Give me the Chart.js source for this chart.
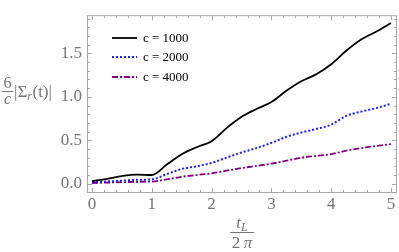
<!DOCTYPE html>
<html lang="en">
<head>
    <meta charset="UTF-8">
    <title>Sigma_r chart</title>
    <script src="https://cdn.jsdelivr.net/npm/chart.js"></script>
    <style>
        html, body { margin: 0; padding: 0; background: #fff; }
        #wrap { width: 399px; height: 252px; }
    </style>
</head>
<body>
    <div id="wrap"><canvas id="chart" width="399" height="252"></canvas></div>

    <script>
        // data
        const tValues = [0, 0.25, 0.5, 0.75, 1, 1.25, 1.5, 1.75, 2, 2.25, 2.5, 2.75, 3, 3.25, 3.5, 3.75, 4, 4.25, 4.5, 4.75, 5];
        const c1000 = [0.03, 0.055, 0.088, 0.105, 0.10, 0.22, 0.34, 0.42, 0.49, 0.64, 0.77, 0.86, 0.94, 1.07, 1.18, 1.26, 1.375, 1.53, 1.66, 1.75, 1.85];
        const c2000 = [0.015, 0.025, 0.035, 0.045, 0.05, 0.11, 0.17, 0.20, 0.24, 0.30, 0.36, 0.41, 0.47, 0.54, 0.59, 0.63, 0.68, 0.78, 0.83, 0.87, 0.92];
        const c4000 = [0.008, 0.013, 0.018, 0.022, 0.025, 0.05, 0.08, 0.10, 0.12, 0.15, 0.18, 0.205, 0.23, 0.265, 0.30, 0.32, 0.34, 0.38, 0.41, 0.435, 0.455];
        const seriesLabels = ['c = 1000', 'c = 2000', 'c = 4000'];
        const xTicks = [0, 1, 2, 3, 4, 5];
        const yTicks = [0, 0.5, 1, 1.5];

        const serif = 'Liberation Serif, Times New Roman, serif';
        const gray = '#757575';

        function pts(ys) {
            return tValues.map((t, i) => ({ x: t, y: ys[i] }));
        }

        // frame with inward ticks, like a Mathematica Frame
        const framePlugin = {
            id: 'frame',
            afterDatasetsDraw(chart) {
                const { ctx, chartArea: a, scales: { x, y } } = chart;
                ctx.save();
                ctx.strokeStyle = '#a8a8a8';
                ctx.lineWidth = 1;
                ctx.strokeRect(a.left + 0.5, a.top + 0.5, a.right - a.left - 1, a.bottom - a.top - 1);
                ctx.beginPath();
                for (let i = 0; i <= 25; i++) {
                    const v = i / 5;
                    const len = i % 5 === 0 ? 5 : 3;
                    const px = Math.round(x.getPixelForValue(v)) + 0.5;
                    ctx.moveTo(px, a.bottom); ctx.lineTo(px, a.bottom - len);
                    ctx.moveTo(px, a.top); ctx.lineTo(px, a.top + len);
                }
                for (let i = -1; i <= 19; i++) {
                    const v = i / 10;
                    const len = i % 5 === 0 ? 5 : 3;
                    const py = Math.round(y.getPixelForValue(v)) + 0.5;
                    if (py < a.top || py > a.bottom) continue;
                    ctx.moveTo(a.left, py); ctx.lineTo(a.left + len, py);
                    ctx.moveTo(a.right, py); ctx.lineTo(a.right - len, py);
                }
                ctx.stroke();
                ctx.restore();
            }
        };

        // legend inside the plot, top left
        const legendPlugin = {
            id: 'innerLegend',
            afterDatasetsDraw(chart) {
                const ctx = chart.ctx;
                const rows = [38, 57, 77];
                ctx.save();
                chart.data.datasets.forEach((ds, i) => {
                    ctx.strokeStyle = ds.borderColor;
                    ctx.lineWidth = ds.borderWidth;
                    ctx.setLineDash(ds.borderDash || []);
                    ctx.beginPath();
                    ctx.moveTo(112, rows[i]); ctx.lineTo(137, rows[i]);
                    ctx.stroke();
                    ctx.setLineDash([]);
                    ctx.fillStyle = '#000';
                    ctx.font = '13px ' + serif;
                    ctx.textBaseline = 'middle';
                    ctx.fillText(ds.label, 143, rows[i] + 1);
                });
                ctx.restore();
            }
        };

        // axis titles written as fractions
        const titlePlugin = {
            id: 'titles',
            afterDraw(chart) {
                const ctx = chart.ctx;
                ctx.save();
                ctx.fillStyle = gray;
                ctx.strokeStyle = gray;
                ctx.lineWidth = 1;
                ctx.textAlign = 'center';
                ctx.textBaseline = 'alphabetic';

                // y title: 6/c |Σr(t)|
                ctx.font = '16px ' + serif;
                ctx.fillText('6', 7.5, 88);
                ctx.beginPath(); ctx.moveTo(2, 91.5); ctx.lineTo(13, 91.5); ctx.stroke();
                ctx.font = 'italic 16px ' + serif;
                ctx.fillText('c', 7.5, 104);
                ctx.textAlign = 'left';
                ctx.font = '17px ' + serif;
                let xx = 14;
                ctx.fillText('|Σ', xx, 97);
                xx += ctx.measureText('|Σ').width;
                ctx.font = 'italic 12px ' + serif;
                ctx.fillText('r', xx, 100);
                xx += ctx.measureText('r').width + 0.5;
                ctx.font = '17px ' + serif;
                ctx.fillText('(t)|', xx, 97);

                // x title: tL / 2π
                const cx = (chart.chartArea.left + chart.chartArea.right) / 2;
                ctx.font = 'italic 17px ' + serif;
                const tw = ctx.measureText('t').width;
                ctx.font = 'italic 12px ' + serif;
                const lw = ctx.measureText('L').width;
                let sx = cx - (tw + lw) / 2;
                ctx.font = 'italic 17px ' + serif;
                ctx.fillText('t', sx, 228);
                ctx.font = 'italic 12px ' + serif;
                ctx.fillText('L', sx + tw, 231);
                ctx.beginPath(); ctx.moveTo(cx - 12, 232.5); ctx.lineTo(cx + 12, 232.5); ctx.stroke();
                ctx.textAlign = 'center';
                ctx.font = '17px ' + serif;
                ctx.fillText('2', cx - 6, 248);
                ctx.font = 'italic 17px ' + serif;
                ctx.fillText('π', cx + 6, 248);
                ctx.restore();
            }
        };

        new Chart(document.getElementById('chart'), {
            type: 'line',
            data: {
                datasets: [{
                    label: seriesLabels[0],
                    data: pts(c1000),
                    borderColor: '#000000',
                    borderWidth: 1.8
                }, {
                    label: seriesLabels[1],
                    data: pts(c2000),
                    borderColor: '#1a1aff',
                    borderWidth: 2,
                    borderDash: [2, 2]
                }, {
                    label: seriesLabels[2],
                    data: pts(c4000),
                    borderColor: '#800080',
                    borderWidth: 1.8,
                    borderDash: [6, 2, 2, 2]
                }]
            },
            options: {
                responsive: false,
                animation: false,
                devicePixelRatio: 1,
                layout: { padding: { left: 0, right: 2, top: 1, bottom: 0 } },
                elements: {
                    point: { radius: 0 },
                    line: { cubicInterpolationMode: 'monotone', fill: false }
                },
                plugins: {
                    legend: { display: false },
                    tooltip: { enabled: false }
                },
                scales: {
                    x: {
                        type: 'linear',
                        min: -0.084,
                        max: 5.1,
                        afterBuildTicks: s => { s.ticks = xTicks.map(v => ({ value: v })); },
                        afterFit: s => { s.height = 59; },
                        grid: { display: false, drawTicks: false },
                        border: { display: false },
                        ticks: {
                            padding: 1,
                            color: gray,
                            font: { family: serif, size: 17 },
                            maxRotation: 0,
                            callback: v => String(v)
                        }
                    },
                    y: {
                        type: 'linear',
                        min: -0.107,
                        max: 1.94,
                        afterBuildTicks: s => { s.ticks = yTicks.map(v => ({ value: v })); },
                        afterFit: s => { s.width = 87; },
                        grid: { display: false, drawTicks: false },
                        border: { display: false },
                        ticks: {
                            padding: 5,
                            color: gray,
                            font: { family: serif, size: 17 },
                            callback: v => v.toFixed(1)
                        }
                    }
                }
            },
            plugins: [framePlugin, legendPlugin, titlePlugin]
        });
    </script>
</body>
</html>
